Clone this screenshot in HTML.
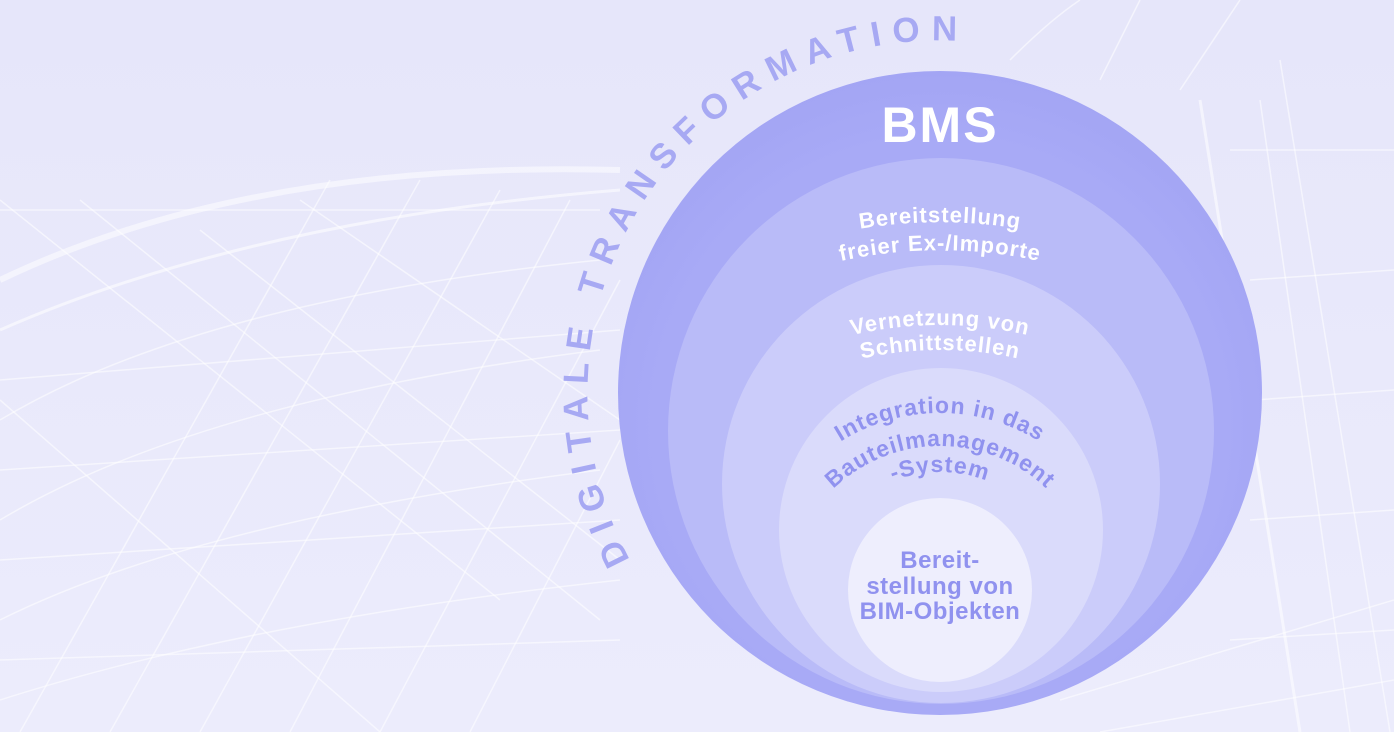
<!DOCTYPE html>
<html><head><meta charset="utf-8"><style>
html,body{margin:0;padding:0}
body{width:1394px;height:732px;overflow:hidden;background:#e7e7fb}
svg{display:block}
</style></head><body>
<svg width="1394" height="732" viewBox="0 0 1394 732" xmlns="http://www.w3.org/2000/svg">
<defs>
<linearGradient id="bg" x1="0" y1="0" x2="0" y2="1">
<stop offset="0" stop-color="#e6e6fa"/><stop offset="1" stop-color="#ececfc"/>
</linearGradient>
<radialGradient id="g1" cx="0.5" cy="0.55" r="0.55"><stop offset="0.8" stop-color="#a8aaf6"/><stop offset="1" stop-color="#a3a5f4"/></radialGradient>
<path id="arcDT" d="M 630 560 A 352 352 0 0 1 1040 55"/>
<path id="l1" d="M 452 710 A 488 488 0 0 1 1428 710"/>
<path id="l2" d="M 480 710 A 460 460 0 0 1 1400 710"/>
<path id="l3" d="M 555 710 A 385 385 0 0 1 1325 710"/>
<path id="l4" d="M 580 710 A 360 360 0 0 1 1300 710"/>
<path id="l5" d="M 753 600 A 187 187 0 0 1 1127 600"/>
<path id="l6" d="M 786 600 A 154 154 0 0 1 1094 600"/>
<path id="l7" d="M 812 600 A 128 128 0 0 1 1068 600"/>
</defs>
<rect width="1394" height="732" fill="url(#bg)"/>
<g stroke="#ffffff" stroke-opacity="0.55" stroke-width="1.5" fill="none">
<path d="M0 280 Q250 160 620 170" stroke-width="6" stroke-opacity="0.5"/>
<path d="M0 330 Q250 220 620 190" stroke-width="3"/>
<path d="M0 420 Q200 300 600 260"/>
<path d="M0 520 Q200 400 600 350"/>
<path d="M0 620 Q200 520 600 470"/>
<path d="M0 700 Q250 620 620 580"/>
<path d="M0 210 L600 210"/><path d="M0 380 L620 330"/><path d="M0 470 L620 430"/><path d="M0 560 L620 520"/><path d="M0 660 L620 640"/>
<path d="M20 732 L330 180"/><path d="M110 732 L420 180"/><path d="M200 732 L500 190"/><path d="M290 732 L570 200"/><path d="M380 732 L620 280"/><path d="M470 732 L620 440"/>
<path d="M0 200 L500 600"/><path d="M80 200 L600 620"/><path d="M200 230 L620 560"/><path d="M0 400 L380 732"/><path d="M300 200 L620 420"/>
<path d="M1010 60 Q1050 20 1080 0"/><path d="M1100 80 L1140 0"/><path d="M1180 90 L1240 0"/>
<path d="M1200 100 L1300 732" stroke-width="3"/><path d="M1260 100 L1350 732"/><path d="M1280 60 L1390 732"/>
<path d="M1230 150 L1394 150"/><path d="M1250 280 L1394 270"/><path d="M1255 400 L1394 390"/><path d="M1250 520 L1394 510"/><path d="M1230 640 L1394 630"/>
<path d="M1060 700 L1394 600"/><path d="M1100 732 L1394 680"/>
</g>
<text font-family="Liberation Sans, sans-serif" font-weight="bold" font-size="35" fill="#a7a9f3"><textPath href="#arcDT" textLength="745" lengthAdjust="spacing">DIGITALE TRANSFORMATION</textPath></text>
<circle cx="940" cy="393" r="322" fill="url(#g1)"/>
<circle cx="941" cy="431" r="273" fill="#b9bbf8"/>
<circle cx="941" cy="484" r="219" fill="#cbccfa"/>
<circle cx="941" cy="530" r="162" fill="#dadbfb"/>
<circle cx="940" cy="590" r="92" fill="#eeeefd"/>
<text x="940" y="142" text-anchor="middle" font-family="Liberation Sans, sans-serif" font-weight="bold" font-size="50" fill="#ffffff" letter-spacing="2">BMS</text>
<g font-family="Liberation Sans, sans-serif" font-weight="bold" fill="#ffffff" font-size="22" text-anchor="middle" letter-spacing="1">
<text><textPath href="#l1" startOffset="50%">Bereitstellung</textPath></text>
<text><textPath href="#l2" startOffset="50%">freier Ex-/Importe</textPath></text>
<text><textPath href="#l3" startOffset="50%">Vernetzung von</textPath></text>
<text><textPath href="#l4" startOffset="50%">Schnittstellen</textPath></text>
</g>
<g font-family="Liberation Sans, sans-serif" font-weight="bold" fill="#9092ef" font-size="23" text-anchor="middle" letter-spacing="1">
<text><textPath href="#l5" startOffset="50%">Integration in das</textPath></text>
<text><textPath href="#l6" startOffset="50%">Bauteilmanagement</textPath></text>
<text><textPath href="#l7" startOffset="50%">-System</textPath></text>
<text x="940" y="568" font-size="24" letter-spacing="0.5">Bereit-</text>
<text x="940" y="594" font-size="24" letter-spacing="0.5">stellung von</text>
<text x="940" y="619" font-size="24" letter-spacing="0.5">BIM-Objekten</text>
</g>
</svg>
</body></html>
